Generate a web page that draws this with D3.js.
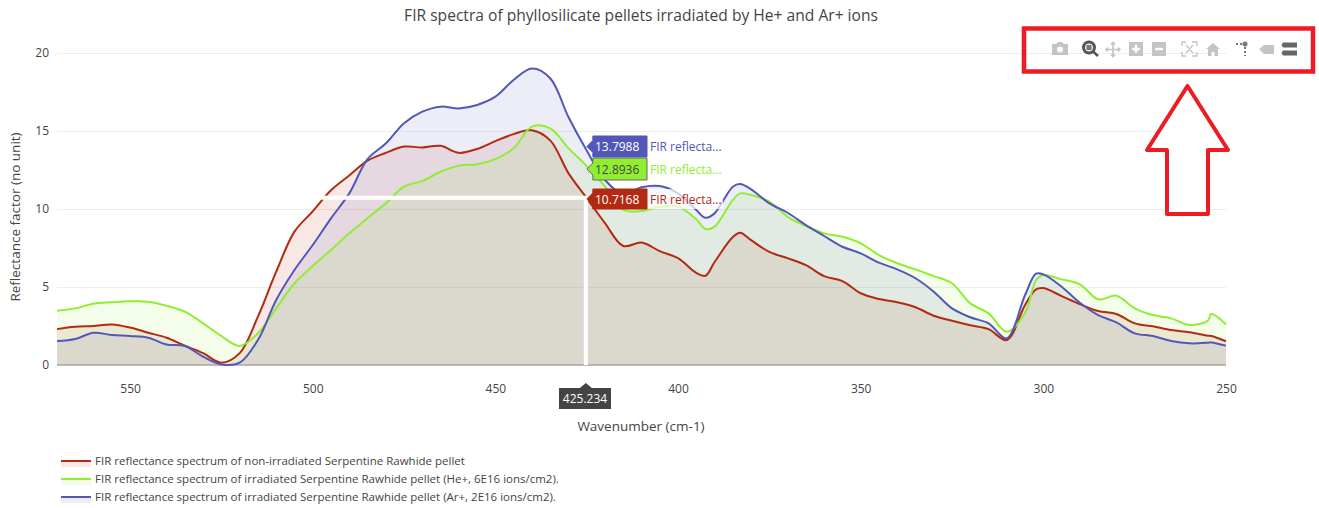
<!DOCTYPE html>
<html>
<head>
<meta charset="utf-8">
<script src="https://cdnjs.cloudflare.com/ajax/libs/d3/7.8.5/d3.min.js"></script>
<style>
  body { margin: 0; background: #fff; }
  text { font-family: "Open Sans", sans-serif; }
</style>
</head>
<body>
<div id="chart-area"></div>
<script>
var wavenumbers = [570, 565, 560, 555, 550, 545, 540, 535, 530, 525, 520, 515, 510, 505, 500, 495, 490, 485, 480, 475,
    470, 465, 460, 455, 450, 445, 440, 435, 430, 425, 420, 415, 410, 405, 400, 395, 392.5, 390, 385, 383, 380, 375,
    370, 365, 360, 355, 350, 345, 340, 335, 330, 325, 320, 315, 310, 305, 302, 300, 295, 290, 285, 280, 275,
    270, 265, 260, 255, 254, 250];

var pristine = [2.3, 2.45, 2.5, 2.6, 2.4, 2.07, 1.75, 1.24, 0.76, 0.15, 0.76, 3.1, 5.98, 8.55, 9.85, 11.2, 12.15, 13.1, 13.6, 14.0,
    13.95, 14.05, 13.6, 13.85, 14.35, 14.8, 15.05, 14.4, 12.3, 10.7, 9.1, 7.63, 7.85, 7.3, 6.85, 5.9, 5.72, 6.6, 8.2, 8.48, 8.0, 7.25,
    6.85, 6.4, 5.7, 5.38, 4.6, 4.23, 4.02, 3.7, 3.16, 2.84, 2.55, 2.3, 1.6, 3.85, 4.85, 4.93, 4.42, 3.9, 3.46, 3.27, 2.67,
    2.48, 2.24, 2.1, 1.88, 1.86, 1.52];

var heIons = [3.48, 3.63, 3.93, 4.02, 4.08, 4.06, 3.8, 3.42, 2.67, 1.86, 1.22, 2.03, 3.63, 5.24, 6.35, 7.37, 8.44, 9.42, 10.36, 11.43,
    11.8, 12.39, 12.78, 12.87, 13.2, 13.89, 15.28, 15.17, 13.9, 12.75, 11.45, 9.94, 9.87, 10.15, 10.15, 9.34, 8.72, 8.87, 10.58, 11.0, 10.9, 10.47,
    9.5, 8.91, 8.44, 8.22, 7.8, 7.05, 6.52, 6.13, 5.7, 5.24, 3.95, 3.31, 2.13, 3.33, 5.45, 5.77, 5.49, 5.17, 4.21, 4.44, 3.63,
    3.2, 2.99, 2.56, 2.84, 3.27, 2.6];

var arIons = [1.54, 1.67, 2.07, 1.92, 1.86, 1.75, 1.32, 1.22, 0.53, 0.03, 0.15, 1.6, 4.17, 6.09, 7.69, 9.4, 11.0, 13.2, 14.2, 15.5,
    16.24, 16.56, 16.45, 16.67, 17.2, 18.27, 19.0, 18.38, 15.9, 13.75, 11.86, 10.96, 11.4, 11.47, 11.0, 9.94, 9.44, 9.72, 11.43, 11.6, 11.26, 10.36,
    9.76, 8.97, 8.27, 7.58, 7.16, 6.56, 6.13, 5.56, 4.7, 3.63, 3.06, 2.67, 1.71, 4.49, 5.85, 5.81, 5.02, 3.99, 3.2, 2.73, 2.03,
    1.86, 1.54, 1.39, 1.43, 1.45, 1.24];

var seriesNames = [
    "FIR reflectance spectrum of non-irradiated Serpentine Rawhide pellet",
    "FIR reflectance spectrum of irradiated Serpentine Rawhide pellet (He+, 6E16 ions/cm2).",
    "FIR reflectance spectrum of irradiated Serpentine Rawhide pellet (Ar+, 2E16 ions/cm2)."
];
var seriesColors = ["#b22a12", "#90ee30", "#5257b8"];
var seriesValues = [pristine, heIons, arIons];

var xTicks = [550, 500, 450, 400, 350, 300, 250];
var yTicks = [0, 5, 10, 15, 20];

var hoverX = 425.234;
var hoverValues = [10.7168, 12.8936, 13.7988];
var hoverText = ["10.7168", "12.8936", "13.7988"];

var width = 1319;
var height = 508;

var svg = d3.select("#chart-area")
    .append("svg")
    .attr("width", width)
    .attr("height", height)
    .style("display", "block");

var x = d3.scaleLinear().domain([570, 250]).range([57, 1226]);
var y = d3.scaleLinear().domain([0, 21]).range([365, 37.4]);

// grid and axes
var yAxis = d3.axisLeft(y).tickValues(yTicks).tickSize(-(1226 - 57)).tickPadding(8);
var yG = svg.append("g").attr("transform", "translate(57,0)").call(yAxis);
yG.select(".domain").remove();
yG.selectAll(".tick line").attr("stroke", "#eeeeee");
yG.selectAll(".tick text").attr("fill", "#444").attr("font-size", 12);

var xAxis = d3.axisBottom(x).tickValues(xTicks).tickSize(0).tickPadding(19);
var xG = svg.append("g").attr("transform", "translate(0,365)").call(xAxis);
xG.select(".domain").remove();
xG.selectAll(".tick text").attr("fill", "#444").attr("font-size", 12);

// filled spectra
var area = d3.area()
    .x((d, i) => x(wavenumbers[i]))
    .y0(y(0))
    .y1(d => y(d))
    .curve(d3.curveCatmullRom);
var line = d3.line()
    .x((d, i) => x(wavenumbers[i]))
    .y(d => y(d))
    .curve(d3.curveCatmullRom);

seriesValues.forEach((vals, i) => {
    svg.append("path").datum(vals)
        .attr("d", area)
        .attr("fill", seriesColors[i])
        .attr("fill-opacity", 0.105);
});

svg.append("line")
    .attr("x1", 57).attr("x2", 1226)
    .attr("y1", y(0)).attr("y2", y(0))
    .attr("stroke", "#8a8a84").attr("stroke-width", 1);

seriesValues.forEach((vals, i) => {
    svg.append("path").datum(vals)
        .attr("d", line)
        .attr("fill", "none")
        .attr("stroke", seriesColors[i])
        .attr("stroke-width", 2);
});

// titles
svg.append("text")
    .attr("x", 641).attr("y", 21)
    .attr("text-anchor", "middle")
    .attr("font-size", 15.6)
    .attr("fill", "#444")
    .text("FIR spectra of phyllosilicate pellets irradiated by He+ and Ar+ ions");

svg.append("text")
    .attr("x", 641).attr("y", 431)
    .attr("text-anchor", "middle")
    .attr("font-size", 13.5)
    .attr("fill", "#444")
    .text("Wavenumber (cm-1)");

svg.append("text")
    .attr("transform", "translate(20,217) rotate(-90)")
    .attr("text-anchor", "middle")
    .attr("font-size", 13.5)
    .attr("fill", "#444")
    .text("Reflectance factor (no unit)");

// hover spikes
var hx = x(hoverX);
svg.append("path")
    .attr("d", `M57,${y(hoverValues[0])}H${hx}V365`)
    .attr("fill", "none")
    .attr("stroke", "#fff")
    .attr("stroke-width", 4);

// hover labels, top one first
var labelBoxes = [
    { idx: 2, top: 136, h: 21, text: "#fff", border: "#5257b8" },
    { idx: 1, top: 158, h: 22, text: "#444", border: "#6a6a6a" },
    { idx: 0, top: 189, h: 20, text: "#fff", border: "#b22a12" }
];
var labelG = svg.append("g");
labelBoxes.forEach(b => {
    var cy = b.top + b.h / 2;
    labelG.append("rect")
        .attr("x", 647).attr("y", b.top)
        .attr("width", 76).attr("height", b.h)
        .attr("fill", "#fff").attr("fill-opacity", 0.7);
    labelG.append("path")
        .attr("d", `M${hx + 1},${cy}l6,-6V${b.top}H647V${b.top + b.h}H${hx + 7}V${cy + 6}Z`)
        .attr("fill", seriesColors[b.idx])
        .attr("stroke", b.border)
        .attr("stroke-width", 1);
    labelG.append("text")
        .attr("x", 595).attr("y", cy + 4.5)
        .attr("font-size", 12)
        .attr("fill", b.text)
        .text(hoverText[b.idx]);
    labelG.append("text")
        .attr("x", 650).attr("y", cy + 4.5)
        .attr("font-size", 12)
        .attr("fill", seriesColors[b.idx])
        .text("FIR reflecta...");
});

// x hover label
svg.append("path")
    .attr("d", `M${hx},383l6,5H611V409H559V388H${hx - 6}Z`)
    .attr("fill", "#444");
svg.append("text")
    .attr("x", 585).attr("y", 403)
    .attr("text-anchor", "middle")
    .attr("font-size", 12)
    .attr("fill", "#fff")
    .text(String(hoverX));

// legend
seriesNames.forEach((name, i) => {
    var ly = 461 + i * 18;
    svg.append("rect")
        .attr("x", 61).attr("y", ly).attr("width", 30).attr("height", 6)
        .attr("fill", seriesColors[i]).attr("fill-opacity", 0.105);
    svg.append("line")
        .attr("x1", 61).attr("x2", 91).attr("y1", ly).attr("y2", ly)
        .attr("stroke", seriesColors[i]).attr("stroke-width", 2);
    svg.append("text")
        .attr("x", 95).attr("y", ly + 4)
        .attr("font-size", 11.5)
        .attr("fill", "#444")
        .text(name);
});

// modebar icons
var iconGrey = "#c4c4c4";
var bar = svg.append("g");
// camera
bar.append("path").attr("d", "M1052,44h4l2,-2h4l2,2h4v11h-16Z").attr("fill", iconGrey);
bar.append("circle").attr("cx", 1060).attr("cy", 49.5).attr("r", 3).attr("fill", "#fff");
// zoom, active
bar.append("circle").attr("cx", 1089).attr("cy", 47.5).attr("r", 5.5).attr("fill", "#eee").attr("stroke", "#555").attr("stroke-width", 3);
bar.append("rect").attr("x", 1086.5).attr("y", 45).attr("width", 5).attr("height", 5).attr("fill", "#777");
bar.append("line").attr("x1", 1093).attr("y1", 51.5).attr("x2", 1098).attr("y2", 56).attr("stroke", "#555").attr("stroke-width", 2.5);
// pan
bar.append("path").attr("d", "M1106,49.5h14M1113,42.5v14M1108,47.5l-2,2l2,2M1118,47.5l2,2l-2,2M1111,44.5l2,-2l2,2M1111,54.5l2,2l2,-2")
    .attr("fill", "none").attr("stroke", iconGrey).attr("stroke-width", 1.6);
// plus and minus
bar.append("rect").attr("x", 1129).attr("y", 42).attr("width", 14).attr("height", 14).attr("fill", iconGrey);
bar.append("path").attr("d", "M1132,49h8M1136,45v8").attr("stroke", "#fff").attr("stroke-width", 2.4);
bar.append("rect").attr("x", 1152).attr("y", 42).attr("width", 14).attr("height", 14).attr("fill", iconGrey);
bar.append("path").attr("d", "M1155,49h8").attr("stroke", "#fff").attr("stroke-width", 2.4);
// autoscale
bar.append("path").attr("d", "M1182,46v-4h4M1192,42h5v4M1197,52v4h-5M1186,56h-4v-4M1186,45l7,8M1193,45l-7,8")
    .attr("fill", "none").attr("stroke", iconGrey).attr("stroke-width", 1.3);
// home
bar.append("path").attr("d", "M1206,49l7,-6l7,6h-2v7h-3.5v-4h-3v4H1208v-7Z").attr("fill", iconGrey);
// spikes
bar.append("path").attr("d", "M1236,44h2M1240,44h2M1245,47v2M1245,51v2M1245,55v1").attr("stroke", "#777").attr("stroke-width", 2);
bar.append("circle").attr("cx", 1245).attr("cy", 44).attr("r", 2.5).attr("fill", "#777");
// closest data tag
bar.append("path").attr("d", "M1259,49l5,-4h10v9h-10Z").attr("fill", iconGrey);
// compare data
bar.append("path").attr("d", "M1283,42.5h14v5h-14l-1.5,-2.5ZM1283,50.5h14v5h-14l-1.5,-2.5Z").attr("fill", "#666");

// red annotation
var annotation = "#ed1c24";
svg.append("rect")
    .attr("x", 1024).attr("y", 28.5)
    .attr("width", 289).attr("height", 43)
    .attr("fill", "none").attr("stroke", annotation).attr("stroke-width", 4.5);
svg.append("path")
    .attr("d", "M1187.5,86L1147,150H1167V214H1208V150H1228Z")
    .attr("fill", "#fff").attr("stroke", annotation).attr("stroke-width", 4).attr("stroke-linejoin", "round");
</script>
</body>
</html>
